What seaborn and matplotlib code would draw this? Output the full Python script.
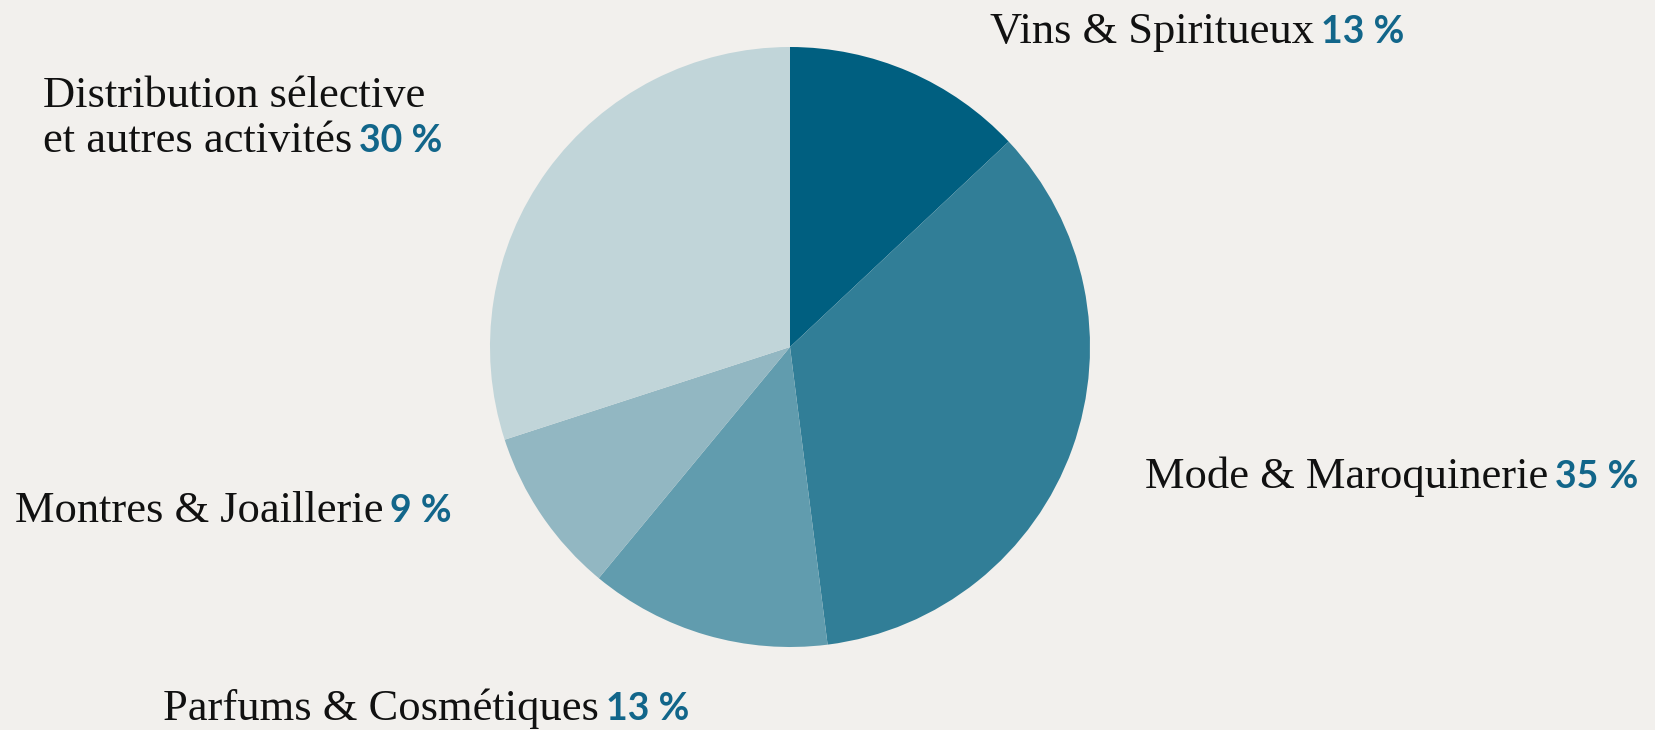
import matplotlib
matplotlib.use("Agg")
import matplotlib.pyplot as plt
import seaborn as sns

# Data
segments = ["Vins & Spiritueux", "Mode & Maroquinerie", "Parfums & Cosmétiques",
            "Montres & Joaillerie", "Distribution sélective\net autres activités"]
shares = [13, 35, 13, 9, 30]
colors = ["#005f80", "#317e97", "#619cae", "#92b7c2", "#c1d5d9"]

# label anchor (left, baseline) in pixels of the 1656x730 figure
label_pos = [(990, 43), (1145, 488), (163, 720), (15, 522), (43, 152)]

W, H = 1656, 730
bg = "#f2f0ed"
pct_color = "#12668a"

sns.set_theme(style="white")
plt.rcParams["font.family"] = ["Liberation Serif", "DejaVu Serif"]

fig = plt.figure(figsize=(W / 100, H / 100), dpi=100, facecolor=bg)

# pie centre / radius in pixels
cx, cy, r = 790, 347, 300
ax = fig.add_axes([(cx - r) / W, (H - cy - r) / H, 2 * r / W, 2 * r / H])
ax.set_facecolor(bg)
ax.pie(shares, colors=colors, startangle=90, counterclock=False,
       radius=1, wedgeprops=dict(linewidth=0))
ax.set_xlim(-1, 1)
ax.set_ylim(-1, 1)
ax.set_aspect("equal")
ax.axis("off")

renderer = fig.canvas.get_renderer()
for name, val, (x, y) in zip(segments, shares, label_pos):
    lines = name.split("\n")
    n = len(lines)
    last = None
    for i, line in enumerate(lines):
        yy = y - (n - 1 - i) * 45
        last = fig.text(x / W, 1 - yy / H, line, fontsize=32, color="#111111",
                        ha="left", va="baseline")
    ext = last.get_window_extent(renderer=renderer)
    fig.text((ext.x1 + 7) / W, 1 - y / H, f"{val} %", fontsize=27,
             fontweight="bold", color=pct_color, family=["Lato", "DejaVu Sans"],
             ha="left", va="baseline")

fig.savefig("out.png", dpi=100, facecolor=bg)
